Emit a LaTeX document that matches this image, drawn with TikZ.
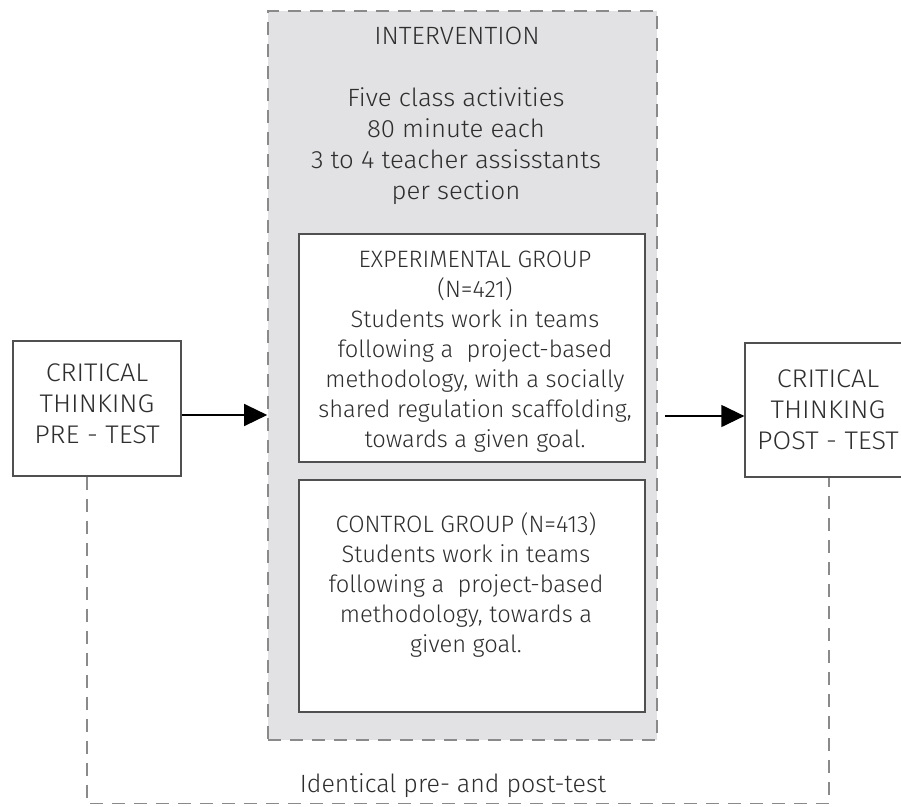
\documentclass[tikz,border=0pt]{standalone}
\usepackage{fontspec}
\setmainfont{Fira Sans}[UprightFont=* Light]
\newfontfamily\graywide{Fira Sans}[UprightFont=* Light,FakeStretch=1.03]
\newfontfamily\testwide{Fira Sans}[UprightFont=* Light,FakeStretch=1.06]
\usetikzlibrary{arrows.meta,calc}
\definecolor{txt}{HTML}{2E2E2E}
\definecolor{grayfill}{HTML}{E2E2E4}
\definecolor{dashc}{HTML}{8A8A8A}
\definecolor{boxline}{HTML}{505050}
\begin{document}
\begin{tikzpicture}[x=1pt,y=-1pt,
  txtstyle/.style={text=txt,align=center,inner sep=0pt,font=\fontsize{23.7}{30}\selectfont},
  graytxt/.style={text=txt,align=center,inner sep=0pt,font=\graywide\fontsize{25}{31}\selectfont},
  testtxt/.style={text=txt,align=center,inner sep=0pt,font=\testwide\fontsize{25.5}{31}\selectfont},
  graybox/.style={draw=dashc,fill=grayfill,line width=1.6pt,dash pattern=on 13pt off 9pt,inner sep=0pt},
  whitebox/.style={draw=boxline,fill=white,line width=1.3pt,inner sep=0pt},
  arr/.style={draw=black,line width=1.3pt,-{Triangle[length=23pt,width=22pt]}},
  dashline/.style={draw=dashc,line width=1.6pt,dash pattern=on 13pt off 9pt}]
\useasboundingbox (0,0) rectangle (901,806);
% intervention box
\node[graybox,minimum width=389pt,minimum height=729pt] (interv) at (462.5,375.5) {};
\node[graytxt] (ititle) at (457,36) {INTERVENTION};
\node[graytxt] (idesc) at (456,146.5) {Five class activities\\80 minute each\\3 to 4 teacher assisstants\\per section};
% experimental
\node[whitebox,minimum width=346pt,minimum height=228pt] (exp) at (472,348) {};
\node[txtstyle] (exptext) at (475,352) {EXPERIMENTAL GROUP\\(N=421)\\Students work in teams\\following a\ \ project-based\\methodology, with a socially\\shared regulation scaffolding,\\towards a given goal.};
% control
\node[whitebox,minimum width=346pt,minimum height=232pt] (ctrl) at (472,596) {};
\node[txtstyle] (ctrltext) at (466,585) {CONTROL GROUP (N=413)\\Students work in teams\\following a\ \ project-based\\methodology, towards a\\given goal.};
% pre / post
\node[whitebox,minimum width=168pt,minimum height=135pt] (pre) at (97,408.5) {};
\node[testtxt] (pretext) at (97,404) {CRITICAL\\THINKING\\PRE - TEST};
\node[whitebox,minimum width=160pt,minimum height=134pt] (post) at (825,410) {};
\node[testtxt] (posttext) at (828,410) {CRITICAL\\THINKING\\POST - TEST};
% arrows
\draw[arr] ($(pre.east)+(0,6.5)$) -- ($(interv.west |- pre.east)+(0,6.5)$);
\coordinate (a2) at ($(interv.east)+(7,40.5)$);
\draw[arr] (a2) -- (a2 -| post.west);
% outer loop
\draw[dashline] ($(pre.south)+(-10,0)$) -- ++(0,327) -| ($(post.south)+(4,0)$);
\node[txtstyle,font=\fontsize{25}{30}\selectfont] (ident) at (453,786) {Identical pre- and post-test};
\end{tikzpicture}
\end{document}
